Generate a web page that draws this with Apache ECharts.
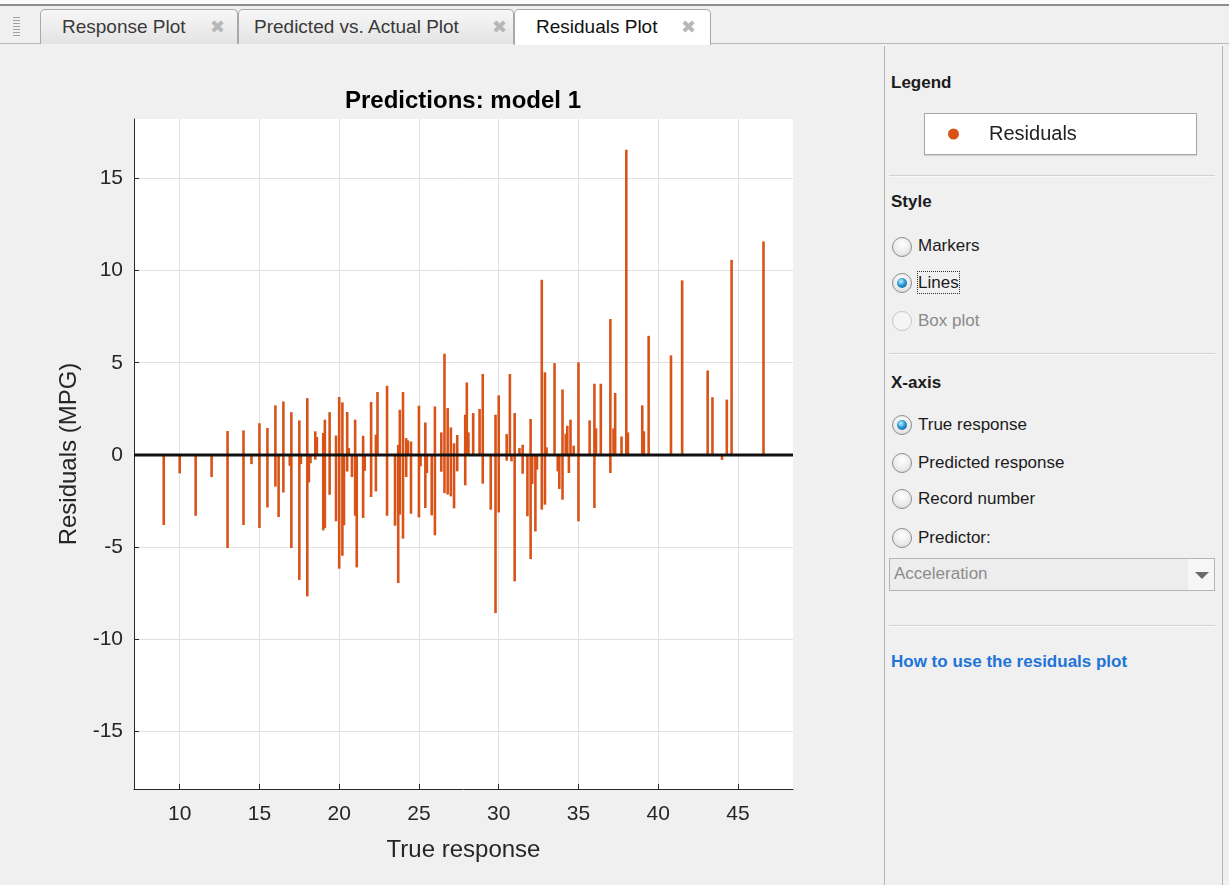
<!DOCTYPE html>
<html><head><meta charset="utf-8">
<script src="https://cdn.jsdelivr.net/npm/echarts@6/dist/echarts.min.js"></script>
<style>
html,body{margin:0;padding:0;}
body{width:1229px;height:885px;position:relative;overflow:hidden;background:#f0f0f0;font-family:"Liberation Sans",Arial,sans-serif;}
.a{position:absolute;}
#topwhite{left:0;top:0;width:1229px;height:4px;background:#fbfbfb;}
#topline{left:0;top:4px;width:1229px;height:2px;background:#8e8e8e;}
#tabline{left:0;top:43px;width:1229px;height:1px;background:#b9b9b9;}
#grip{left:13px;top:17px;width:7px;height:21px;background:repeating-linear-gradient(#a0a0a0 0 1px,transparent 1px 3px);}
.tab{position:absolute;top:9px;height:35px;border:1px solid #a9a9a9;border-bottom:none;border-radius:5px 5px 0 0;background:linear-gradient(#f7f7f7,#e3e3e3);box-sizing:border-box;font-size:19px;color:#3a3a3a;line-height:33px;}
.tab .t{position:absolute;top:0;white-space:nowrap;}
.tab .x{position:absolute;top:0;font-family:"DejaVu Sans";font-size:18px;color:#b7b7b7;}
.tab.active{background:#fff;height:36px;color:#111;}
#panel{left:884px;top:46px;width:339px;height:839px;border-left:1px solid #b4b4b4;border-right:1px solid #b4b4b4;box-sizing:border-box;}
.lbl{position:absolute;height:24px;line-height:24px;font-size:17px;color:#1b1b1b;white-space:nowrap;}
.b{font-weight:bold;}
.sep{position:absolute;left:889px;width:326px;height:1px;background:#d2d2d2;border-bottom:1px solid #fafafa;}
.radio{position:absolute;left:892px;width:20px;height:20px;border-radius:50%;box-sizing:border-box;border:1px solid #8d8d8d;background:radial-gradient(circle at 50% 35%,#ffffff 0%,#ececec 55%,#d2d2d2 100%);}
.radio.sel::after{content:'';position:absolute;left:4px;top:4px;width:10px;height:10px;border-radius:50%;background:radial-gradient(circle at 40% 35%,#c4f2ff 0%,#2c98d4 45%,#0a4e7c 100%);}
.radio.dis{border-color:#c6c6c6;background:#f5f5f5;}
#legbox{left:924px;top:113px;width:273px;height:42px;background:#fff;border:1px solid #a8a8a8;box-sizing:border-box;box-shadow:0 1px 1px rgba(0,0,0,0.12);}
#focus{left:917px;top:271px;width:43px;height:23px;border:1px dotted #333;box-sizing:border-box;}
#dd{left:889px;top:558px;width:326px;height:33px;border:1px solid #b5b5b5;box-sizing:border-box;background:#ededed;}
#ddr{left:1188px;top:559px;width:26px;height:31px;background:#f6f6f6;}
#ddarrow{left:1195px;top:572px;width:0;height:0;border-left:7px solid transparent;border-right:7px solid transparent;border-top:7px solid #6a6a6a;}
#link{color:#1e74d8;font-weight:bold;}
#chart{position:absolute;left:0;top:0;width:1229px;height:885px;}
</style></head>
<body>
<div id="topwhite" class="a"></div>
<div id="topline" class="a"></div>
<div id="tabline" class="a"></div>
<div id="grip" class="a"></div>
<div class="tab" style="left:40px;width:198px;"><span class="t" style="left:21px;">Response Plot</span><span class="x" style="left:169px;">✖</span></div>
<div class="tab" style="left:238px;width:276px;"><span class="t" style="left:15px;">Predicted vs. Actual Plot</span><span class="x" style="left:253px;">✖</span></div>
<div class="tab active" style="left:514px;width:197px;"><span class="t" style="left:21px;">Residuals Plot</span><span class="x" style="left:166px;">✖</span></div>

<div id="panel" class="a"></div>
<div class="lbl b" style="left:891px;top:71px;">Legend</div>
<div id="legbox" class="a"></div>
<div class="sep" style="top:175px;"></div>
<div class="lbl b" style="left:891px;top:190px;">Style</div>
<div class="radio" style="top:237px;"></div><div class="lbl" style="left:918px;top:234px;">Markers</div>
<div class="radio sel" style="top:273px;"></div><div class="lbl" style="left:918px;top:271px;">Lines</div>
<div id="focus" class="a"></div>
<div class="radio dis" style="top:311px;"></div><div class="lbl" style="left:918px;top:309px;color:#8a8a8a;">Box plot</div>
<div class="sep" style="top:353px;"></div>
<div class="lbl b" style="left:891px;top:371px;">X-axis</div>
<div class="radio sel" style="top:415px;"></div><div class="lbl" style="left:918px;top:413px;">True response</div>
<div class="radio" style="top:453px;"></div><div class="lbl" style="left:918px;top:451px;">Predicted response</div>
<div class="radio" style="top:489px;"></div><div class="lbl" style="left:918px;top:487px;">Record number</div>
<div class="radio" style="top:528px;"></div><div class="lbl" style="left:918px;top:526px;">Predictor:</div>
<div id="dd" class="a"></div><div id="ddr" class="a"></div><div id="ddarrow" class="a"></div>
<div class="lbl" style="left:894px;top:562px;color:#8c8c8c;">Acceleration</div>
<div class="sep" style="top:625px;"></div>
<div id="link" class="lbl" style="left:891px;top:650px;">How to use the residuals plot</div>

<div id="chart"></div>
<script>
// ---- data (true response MPG, residual MPG) ----
const seriesName = 'Residuals';
const residualData = [
[9,-3.8],[10,-1.0],[11,-3.3],[12,-1.2],[13,1.3],[13,-5.05],[14,1.33],[14,-3.8],[14.5,-0.5],
[15,1.72],[15,-3.96],[15.5,1.46],[15.5,-2.85],[16,2.69],[16,-1.72],[16.2,-3.37],[16.5,2.9],[16.5,-2.04],
[16.9,-0.59],[17,2.32],[17,-5.05],[17.5,1.87],[17.5,-6.78],[17.6,-0.5],[18,3.08],[18,-7.67],[18.1,-1.49],
[18.2,-0.45],[18.5,1.28],[18.5,-0.26],[18.6,0.97],[19,1.19],[19,-4.09],[19.1,1.91],[19.1,-3.97],[19.4,2.32],
[19.4,-2.16],[19.8,1.05],[19.8,-3.6],[20,3.14],[20,-6.17],[20.2,2.85],[20.2,-5.47],[20.3,-3.82],[20.5,2.33],
[20.5,-0.9],[20.6,0.37],[20.8,-1.2],[21,1.91],[21,-3.3],[21.1,-6.1],[21.5,1.04],[21.5,-3.42],[21.6,-0.86],
[22,2.87],[22,-2.28],[22.3,1.1],[22.3,-1.98],[22.4,3.41],[23,3.75],[23,-3.3],[23.5,-3.84],[23.7,0.55],
[23.7,-6.95],[23.8,2.45],[23.8,-3.24],[24,3.41],[24,-4.54],[24.2,0.91],[24.2,-1.2],[24.3,0.79],[24.5,0.73],
[24.5,-3.19],[25,2.67],[25,-3.39],[25.1,-0.62],[25.4,1.76],[25.4,-2.88],[25.5,-0.98],[25.8,-3.28],[26,2.63],
[26,-4.36],[26.4,1.22],[26.4,-0.91],[26.6,5.49],[26.6,-2.07],[26.8,2.54],[26.8,-2.15],[27,1.49],[27,-2.25],
[27.2,0.63],[27.2,-2.9],[27.4,1.08],[27.4,-0.89],[27.9,2.18],[27.9,-1.65],[28,3.93],[28.1,1.22],[28.4,2.27],
[28.8,2.49],[29,4.39],[29,-1.56],[29.5,-2.97],[29.8,2.18],[29.8,-8.58],[30,3.23],[30,-3.12],[30.5,1.13],
[30.5,-0.31],[30.7,4.39],[30.8,-0.35],[31,2.27],[31,-6.86],[31.3,0.37],[31.5,0.55],[31.5,-1.02],[31.8,-3.33],
[32,1.95],[32,-5.65],[32.1,-1.58],[32.3,-4.15],[32.4,-0.8],[32.7,9.5],[32.7,-2.97],[32.9,4.48],[32.9,-2.7],
[33,0.41],[33.5,4.98],[33.7,-0.89],[33.8,-1.85],[34,3.55],[34,-2.43],[34.2,1.15],[34.3,1.58],[34.4,-0.98],
[34.5,1.91],[34.7,0.5],[35,5.02],[35,-3.6],[35.7,1.87],[36,3.86],[36,-2.88],[36.1,1.44],[36.4,3.86],
[37,7.37],[37,-0.98],[37.2,1.44],[37.3,3.36],[37.7,1.0],[38,16.55],[38.1,1.22],[39,2.69],[39.1,1.28],
[39.4,6.46],[40.8,5.4],[41.5,9.47],[43.1,4.58],[43.4,3.13],[44,-0.27],[44.3,3.0],[44.6,10.58],[46.6,11.58]
];
const xTicks = [10, 15, 20, 25, 30, 35, 40, 45];
const yTicks = [-15, -10, -5, 0, 5, 10, 15];
const xLimits = [7.135, 48.45];
const yLimits = [-18.12, 18.22];
const zeroLine = [[xLimits[0], 0], [xLimits[1], 0]];

const AX = '#262626';
const FONT = '"Liberation Sans", Arial, Helvetica, sans-serif';
const chart = echarts.init(document.getElementById('chart'), null, {renderer: 'canvas'});
chart.setOption({
  backgroundColor: 'transparent',
  animation: false,
  textStyle: {fontFamily: FONT},
  graphic: [{
    type: 'text', x: 463, y: 101, z: 10,
    style: {text: 'Predictions: model 1', fontFamily: FONT, fontWeight: 'bold', fontSize: 24,
            fill: '#000', align: 'center', verticalAlign: 'middle'}
  }],
  legend: {
    data: [seriesName], left: 948, top: 124, padding: 0,
    icon: 'circle', itemWidth: 41, itemHeight: 11,
    textStyle: {fontSize: 20, color: '#222', padding: [0, 0, 0, 10], fontFamily: FONT},
    selectedMode: false
  },
  grid: {left: 134, top: 119, width: 659, height: 670, show: true, backgroundColor: '#fff', borderWidth: 0},
  xAxis: {
    type: 'value', min: xLimits[0], max: xLimits[1],
    name: 'True response', nameLocation: 'middle', nameGap: 49,
    nameTextStyle: {fontSize: 24, color: AX, fontFamily: FONT},
    axisLine: {show: true, onZero: false, lineStyle: {color: AX, width: 1}},
    axisTick: {show: true, inside: true, length: 5, customValues: xTicks, lineStyle: {color: AX}},
    axisLabel: {customValues: xTicks, fontSize: 21, color: AX, margin: 15, fontFamily: FONT},
    splitLine: {show: true, lineStyle: {color: '#e0e0e0', width: 1}}
  },
  yAxis: {
    type: 'value', min: yLimits[0], max: yLimits[1],
    name: 'Residuals (MPG)', nameLocation: 'middle', nameGap: 50,
    nameTextStyle: {fontSize: 24, color: AX, fontFamily: FONT},
    axisLine: {show: true, onZero: false, lineStyle: {color: AX, width: 1}},
    axisTick: {show: true, inside: true, length: 5, customValues: yTicks, lineStyle: {color: AX}},
    axisLabel: {customValues: yTicks, fontSize: 21, color: AX, margin: 11, fontFamily: FONT},
    splitLine: {show: true, lineStyle: {color: '#e0e0e0', width: 1}}
  },
  series: [
    {
      name: seriesName, type: 'custom', data: residualData,
      itemStyle: {color: '#D95319'},
      encode: {x: 0, y: 1},
      renderItem: function (params, api) {
        const x = api.value(0), y = api.value(1);
        const p0 = api.coord([x, 0]);
        const p1 = api.coord([x, y]);
        return {type: 'line', shape: {x1: p0[0], y1: p0[1], x2: p1[0], y2: p1[1]},
                style: {stroke: '#D95319', lineWidth: 2.6}};
      },
      z: 2
    },
    {
      name: 'zero', type: 'line', data: zeroLine, symbol: 'none', silent: true,
      lineStyle: {color: '#111', width: 3}, z: 5
    }
  ]
});
</script>
</body></html>
